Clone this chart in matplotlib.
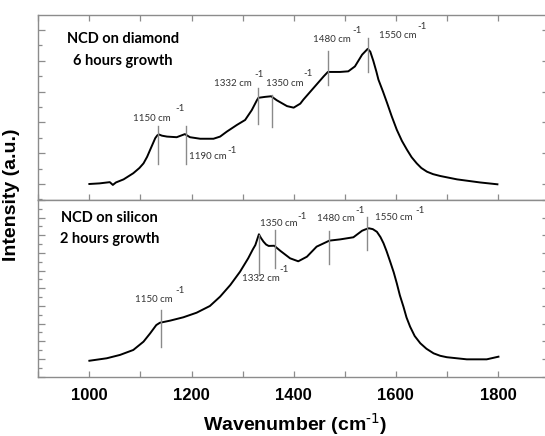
import numpy as np
import matplotlib
matplotlib.use("Agg")
import matplotlib.pyplot as plt
from matplotlib.ticker import MultipleLocator, NullFormatter

# spectra (arbitrary intensity units)
diamond_wn = [1000, 1020, 1040, 1046, 1052, 1067, 1086, 1098, 1106, 1113, 1119, 1124,
              1129, 1133, 1136, 1142, 1152, 1171, 1187, 1197, 1217, 1243, 1256, 1269,
              1289, 1305, 1318, 1328, 1331, 1344, 1356, 1367, 1387, 1400, 1413, 1419,
              1439, 1459, 1467, 1491, 1507, 1520, 1534, 1545, 1550, 1556, 1562, 1566,
              1575, 1583, 1592, 1602, 1612, 1622, 1631, 1641, 1650, 1661, 1673, 1687,
              1720, 1765, 1799]
diamond_int = [0.0, 0.02, 0.06, -0.03, 0.05, 0.15, 0.35, 0.52, 0.67, 0.88, 1.11, 1.30,
               1.49, 1.58, 1.61, 1.57, 1.54, 1.52, 1.62, 1.52, 1.47, 1.47, 1.54, 1.70,
               1.92, 2.08, 2.40, 2.72, 2.80, 2.83, 2.85, 2.72, 2.53, 2.48, 2.61, 2.74,
               3.12, 3.50, 3.64, 3.64, 3.66, 3.82, 4.20, 4.39, 4.30, 4.00, 3.65, 3.39,
               3.00, 2.63, 2.20, 1.76, 1.40, 1.11, 0.87, 0.67, 0.52, 0.40, 0.32, 0.26,
               0.15, 0.05, -0.01]

silicon_wn = [1000, 1034, 1060, 1086, 1106, 1119, 1131, 1138, 1158, 1184, 1210, 1236,
              1256, 1276, 1295, 1311, 1320, 1325, 1329, 1332, 1336, 1341, 1346, 1351,
              1362, 1374, 1393, 1409, 1426, 1445, 1470, 1491, 1517, 1534, 1540, 1547,
              1555, 1563, 1570, 1576, 1582, 1589, 1596, 1602, 1608, 1615, 1621, 1628,
              1637, 1648, 1660, 1674, 1687, 1700, 1739, 1778, 1801]
silicon_int = [-0.10, 0.04, 0.23, 0.51, 0.98, 1.45, 1.92, 2.05, 2.17, 2.36, 2.62, 3.00,
               3.53, 4.19, 4.94, 5.70, 6.20, 6.45, 6.80, 7.06, 6.85, 6.64, 6.48, 6.40,
               6.41, 6.12, 5.70, 5.53, 5.79, 6.36, 6.70, 6.77, 6.89, 7.26, 7.33, 7.40,
               7.35, 7.20, 6.90, 6.55, 6.10, 5.51, 4.90, 4.28, 3.60, 2.96, 2.35, 1.83,
               1.30, 0.89, 0.58, 0.32, 0.18, 0.10, -0.02, -0.02, 0.13]

# peak markers: (position, line bottom, line top, label, label x, label y, sup x, sup y)
diamond_peaks = [
    (1135, 0.65, 1.89, "1150 cm", 1122, 2.14, 1178, 2.44),
    (1190, 0.65, 1.89, "1190 cm", 1231, 0.88, 1279, 1.10),
    (1331, 1.95, 3.12, "1332 cm", 1281, 3.25, 1332, 3.57),
    (1357, 1.85, 2.90, "1350 cm", 1383, 3.28, 1428, 3.60),
    (1467, 3.20, 4.31, "1480 cm", 1474, 4.71, 1524, 5.00),
    (1545, 3.63, 4.75, "1550 cm", 1603, 4.84, 1652, 5.13),
]
silicon_peaks = [
    (1140, 0.70, 2.77, "1150 cm", 1127, 3.34, 1178, 3.87),
    (1332, 4.75, 7.02, "1332 cm", 1335, 4.54, 1381, 5.04),
    (1364, 5.13, 7.30, "1350 cm", 1370, 7.68, 1417, 8.04),
    (1470, 5.38, 7.26, "1480 cm", 1483, 7.96, 1530, 8.43),
    (1543, 6.17, 8.05, "1550 cm", 1596, 8.00, 1648, 8.43),
]

frame = "#8c8c8c"
W, H = 545, 436
fig = plt.figure(figsize=(W / 100, H / 100), dpi=100)
ax1 = fig.add_axes([38.3 / W, (H - 200) / H, 510.7 / W, 185 / H])
ax2 = fig.add_axes([38.3 / W, (H - 377) / H, 510.7 / W, 177 / H])


def style(ax, ylim, bottom_labels):
    ax.set_xlim(900, 1900)
    ax.set_ylim(*ylim)
    ax.xaxis.set_major_locator(MultipleLocator(200))
    ax.xaxis.set_minor_locator(MultipleLocator(100))
    ax.yaxis.set_major_locator(MultipleLocator(1))
    ax.yaxis.set_minor_locator(MultipleLocator(0.5))
    ax.yaxis.set_major_formatter(NullFormatter())
    for s in ax.spines.values():
        s.set_color(frame)
        s.set_linewidth(1.0)
    ax.tick_params(axis="both", which="both", direction="in", color=frame, width=0.9)
    ax.tick_params(axis="y", which="major", length=5, left=True, right=True)
    ax.tick_params(axis="y", which="minor", length=3, left=True, right=True)
    ax.tick_params(axis="x", which="both", length=4.5, bottom=True,
                   top=not bottom_labels, labelbottom=bottom_labels)
    if bottom_labels:
        ax.tick_params(axis="x", which="major", labelsize=12, pad=8)


def peaks(ax, plist):
    for pos, lo, hi, lab, lx, ly, sx, sy in plist:
        ax.plot([pos, pos], [lo, hi], color="#8a8a8a", lw=1.0)
        ax.text(lx, ly, lab, ha="center", va="center", fontsize=7,
                family="Lato", color="#333333")
        ax.text(sx, sy, "-1", ha="center", va="center", fontsize=7,
                family="Lato", color="#333333")


ax1.plot(diamond_wn, diamond_int, color="black", lw=1.4)
ax2.plot(silicon_wn, silicon_int, color="black", lw=1.4)
peaks(ax1, diamond_peaks)
peaks(ax2, silicon_peaks)

style(ax1, (-0.52, 5.49), False)
style(ax2, (-1.02, 9.0), True)
for t in ax2.get_xticklabels():
    t.set_fontweight("bold")
    t.set_family("Liberation Sans")

ax1.text(0.166, 0.87, "NCD on diamond", transform=ax1.transAxes, ha="center",
         va="center", fontsize=10.5, fontweight="bold", family="Lato")
ax1.text(0.166, 0.75, "6 hours growth", transform=ax1.transAxes, ha="center",
         va="center", fontsize=10.5, fontweight="bold", family="Lato")
ax2.text(0.139, 0.90, "NCD on silicon", transform=ax2.transAxes, ha="center",
         va="center", fontsize=10.5, fontweight="bold", family="Lato")
ax2.text(0.139, 0.78, "2 hours growth", transform=ax2.transAxes, ha="center",
         va="center", fontsize=10.5, fontweight="bold", family="Lato")

fig.text(12 / W, 1 - 195 / H, "Intensity (a.u.)", rotation=90, ha="center",
         va="center", fontsize=14, fontweight="bold", family="Liberation Sans")
fig.text(295 / W, 1 - 424 / H, "Wavenumber (cm$^{\\text{-1}}$)", ha="center",
         va="center", fontsize=14, fontweight="bold", family="Liberation Sans")

fig.savefig("out.png", dpi=100)
